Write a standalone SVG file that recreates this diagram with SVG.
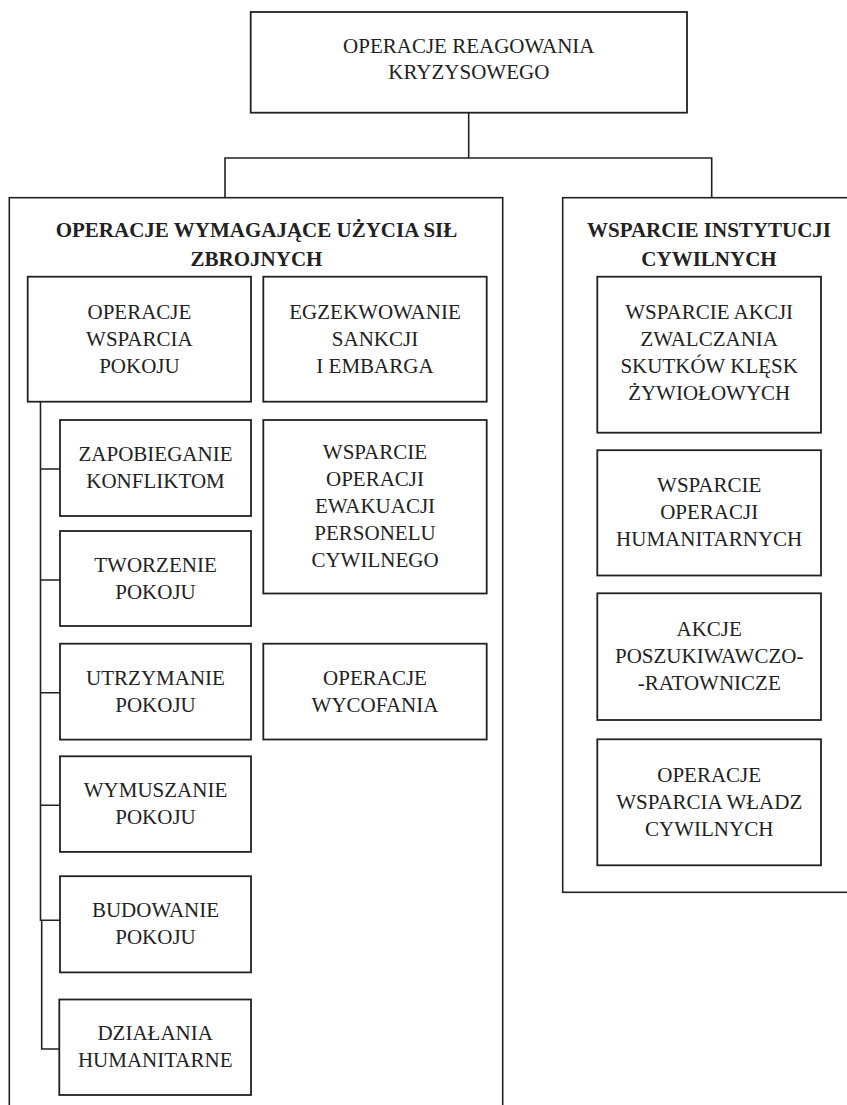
<svg xmlns="http://www.w3.org/2000/svg" width="847" height="1105" viewBox="0 0 847 1105">
<style>
rect.b{fill:#fff;stroke:#222;stroke-width:1.8}
rect.g{fill:none;stroke:#222;stroke-width:1.6}
.c{fill:none;stroke:#222;stroke-width:1.6}
text{font-family:'Liberation Serif','Times New Roman','DejaVu Serif',serif;font-size:21px;fill:#222;text-anchor:middle}
text.t{font-weight:bold}
</style>
<rect x="0" y="0" width="847" height="1105" fill="#fff"/>
<g id="connectors">
<path class="c" d="M468.7,112.7V158M225,197.7V158H711.7V197.7"/>
<path class="c" d="M40.5,401.7V921M41.7,920.3V1049H60"/>
<path class="c" d="M40.5,469H60M40.5,580H60M40.5,692.7H60M40.5,805.3H60M40.5,920.3H60"/>
</g>
<g id="root">
<rect class="b" x="250.7" y="12" width="436.3" height="100.7"/>
<text x="468.8" y="52.7" font-family="Liberation Serif, serif">OPERACJE REAGOWANIA</text>
<text x="468.8" y="79.3" font-family="Liberation Serif, serif">KRYZYSOWEGO</text>
</g>
<g id="group-armed">
<rect class="g" x="9.3" y="197.7" width="493.4" height="930"/>
<text class="t" x="256.5" y="237">OPERACJE WYMAGAJĄCE UŻYCIA SIŁ</text>
<text class="t" x="256.5" y="266">ZBROJNYCH</text>
</g>
<g id="group-civil">
<rect class="g" x="562.7" y="197.7" width="300" height="694.6"/>
<text class="t" x="709" y="237">WSPARCIE INSTYTUCJI</text>
<text class="t" x="709" y="266">CYWILNYCH</text>
</g>
<g id="peace-support">
<rect class="b" x="27.7" y="276.7" width="223.3" height="125"/>
<text x="139.4" y="318.7">OPERACJE</text>
<text x="139.4" y="345.7">WSPARCIA</text>
<text x="139.4" y="372.7">POKOJU</text>
</g>
<g id="conflict-prevention">
<rect class="b" x="60" y="420" width="191" height="96"/>
<text x="155.5" y="461">ZAPOBIEGANIE</text>
<text x="155.5" y="488">KONFLIKTOM</text>
</g>
<g id="peacemaking">
<rect class="b" x="60" y="531" width="191" height="95"/>
<text x="155.5" y="571.5">TWORZENIE</text>
<text x="155.5" y="598.5">POKOJU</text>
</g>
<g id="peacekeeping">
<rect class="b" x="60" y="643.7" width="191" height="95.9"/>
<text x="155.5" y="684.6">UTRZYMANIE</text>
<text x="155.5" y="711.6">POKOJU</text>
</g>
<g id="peace-enforcement">
<rect class="b" x="60" y="756.3" width="191" height="95.6"/>
<text x="155.5" y="797.1">WYMUSZANIE</text>
<text x="155.5" y="824.1">POKOJU</text>
</g>
<g id="peacebuilding">
<rect class="b" x="60" y="876.2" width="191" height="96.2"/>
<text x="155.5" y="917.3">BUDOWANIE</text>
<text x="155.5" y="944.3">POKOJU</text>
</g>
<g id="humanitarian-actions">
<rect class="b" x="59.3" y="999.5" width="191.7" height="95.5"/>
<text x="155.2" y="1040.2">DZIAŁANIA</text>
<text x="155.2" y="1067.2">HUMANITARNE</text>
</g>
<g id="sanctions">
<rect class="b" x="263.3" y="276.7" width="223.4" height="125"/>
<text x="375" y="318.7">EGZEKWOWANIE</text>
<text x="375" y="345.7">SANKCJI</text>
<text x="375" y="372.7">I EMBARGA</text>
</g>
<g id="evacuation">
<rect class="b" x="263.3" y="420" width="223.4" height="173.5"/>
<text x="375" y="459.2">WSPARCIE</text>
<text x="375" y="486.2">OPERACJI</text>
<text x="375" y="513.2">EWAKUACJI</text>
<text x="375" y="540.2">PERSONELU</text>
<text x="375" y="567.2">CYWILNEGO</text>
</g>
<g id="withdrawal">
<rect class="b" x="263.3" y="643.7" width="223.4" height="95.8"/>
<text x="375" y="684.6">OPERACJE</text>
<text x="375" y="711.6">WYCOFANIA</text>
</g>
<g id="disaster-relief">
<rect class="b" x="597.3" y="276.7" width="223.7" height="156"/>
<text x="709.2" y="318.5">WSPARCIE AKCJI</text>
<text x="709.2" y="345.5">ZWALCZANIA</text>
<text x="709.2" y="372.5">SKUTKÓW KLĘSK</text>
<text x="709.2" y="399.5">ŻYWIOŁOWYCH</text>
</g>
<g id="humanitarian-ops">
<rect class="b" x="597.3" y="450.2" width="223.7" height="125.3"/>
<text x="709.2" y="492.4">WSPARCIE</text>
<text x="709.2" y="519.4">OPERACJI</text>
<text x="709.2" y="546.4">HUMANITARNYCH</text>
</g>
<g id="search-rescue">
<rect class="b" x="597.3" y="593.3" width="223.7" height="126.7"/>
<text x="709.2" y="636.2">AKCJE</text>
<text x="709.2" y="663.2">POSZUKIWAWCZO-</text>
<text x="709.2" y="690.2">-RATOWNICZE</text>
</g>
<g id="civil-authorities">
<rect class="b" x="597.3" y="739.3" width="223.7" height="126"/>
<text x="709.2" y="781.8">OPERACJE</text>
<text x="709.2" y="808.8">WSPARCIA WŁADZ</text>
<text x="709.2" y="835.8">CYWILNYCH</text>
</g>
</svg>
